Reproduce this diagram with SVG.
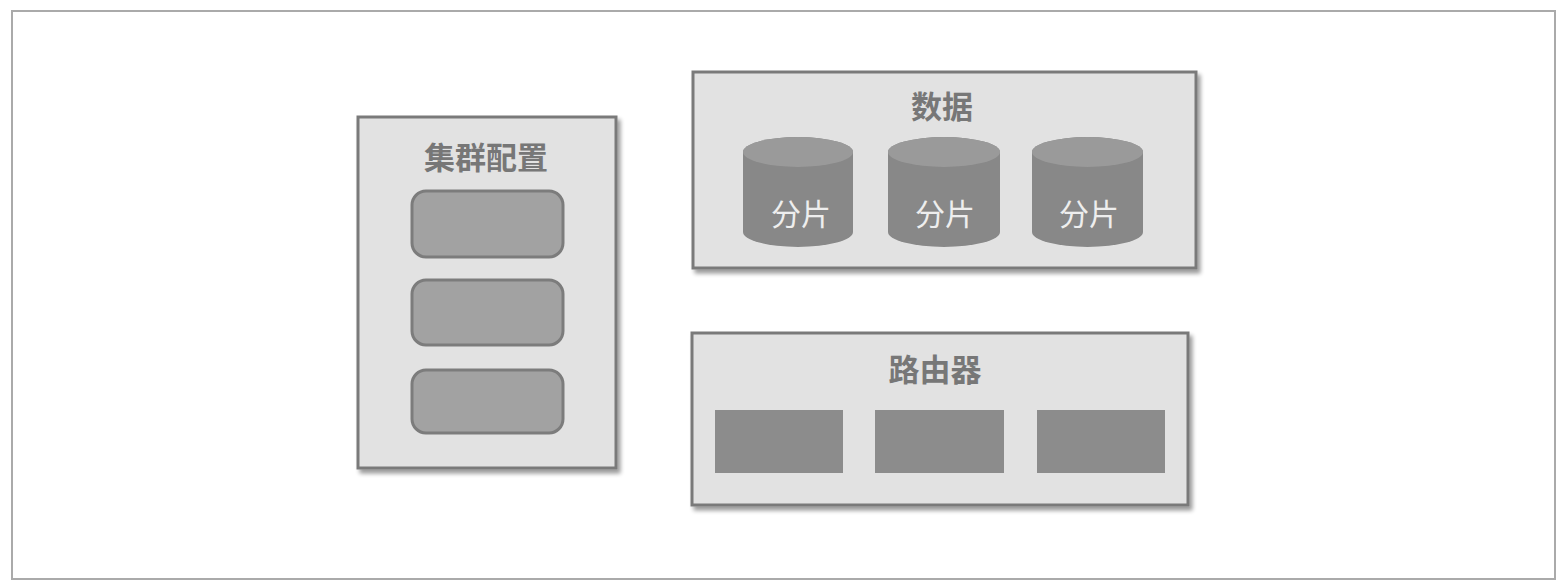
<svg xmlns="http://www.w3.org/2000/svg" width="1560" height="581" viewBox="0 0 1560 581">
<defs>
<filter id="sh" x="-5%" y="-5%" width="115%" height="115%">
<feGaussianBlur in="SourceAlpha" stdDeviation="2"/>
<feOffset dx="3" dy="4" result="b"/>
<feComponentTransfer><feFuncA type="linear" slope="0.4"/></feComponentTransfer>
<feMerge><feMergeNode/><feMergeNode in="SourceGraphic"/></feMerge>
</filter>
</defs>
<style>
.frame{fill:#ffffff;stroke:#aaaaaa;stroke-width:2}
.box{fill:#e2e2e2;stroke:#7a7a7a;stroke-width:3;filter:url(#sh)}
.rr{fill:#a2a2a2;stroke:#7c7c7c;stroke-width:3}
.cyl{fill:#888888}
.cyltop{fill:#9a9a9a}
.blk{fill:#8c8c8c}
.title{font-family:"Noto Sans CJK SC","Noto Sans",sans-serif;font-size:31px;font-weight:bold;fill:#777777;text-anchor:middle}
.lbl{font-family:"Noto Sans CJK SC","Noto Sans",sans-serif;font-size:30px;fill:#eeeeee;text-anchor:middle}
</style>
<rect class="frame" x="12" y="11" width="1543" height="568"/>
<g id="config">
<rect class="box" x="358" y="117" width="258" height="351"/>
<text class="title" x="486" y="169">集群配置</text>
<rect class="rr" x="412" y="191" width="151" height="66" rx="14"/>
<rect class="rr" x="412" y="280" width="151" height="65" rx="14"/>
<rect class="rr" x="412" y="370" width="151" height="63" rx="14"/>
</g>
<g id="data">
<rect class="box" x="693" y="72" width="503" height="196"/>
<text class="title" x="942" y="118">数据</text>
<g id="shard1">
<path class="cyl" d="M743,152 A55,15 0 0 1 853,152 V232 A55,15 0 0 1 743,232 Z"/>
<ellipse class="cyltop" cx="798" cy="152" rx="55" ry="15"/>
<text class="lbl" x="801" y="225">分片</text>
</g>
<g id="shard2">
<path class="cyl" d="M888,152 A56,15 0 0 1 1000,152 V232 A56,15 0 0 1 888,232 Z"/>
<ellipse class="cyltop" cx="944" cy="152" rx="56" ry="15"/>
<text class="lbl" x="945" y="225">分片</text>
</g>
<g id="shard3">
<path class="cyl" d="M1032,152 A55.5,15 0 0 1 1143,152 V232 A55.5,15 0 0 1 1032,232 Z"/>
<ellipse class="cyltop" cx="1087.5" cy="152" rx="55.5" ry="15"/>
<text class="lbl" x="1089" y="225">分片</text>
</g>
</g>
<g id="router">
<rect class="box" x="692" y="333" width="496" height="172"/>
<text class="title" x="935" y="381">路由器</text>
<rect class="blk" x="715" y="410" width="128" height="63"/>
<rect class="blk" x="875" y="410" width="129" height="63"/>
<rect class="blk" x="1037" y="410" width="128" height="63"/>
</g>
<g id="connectors"/>
</svg>
